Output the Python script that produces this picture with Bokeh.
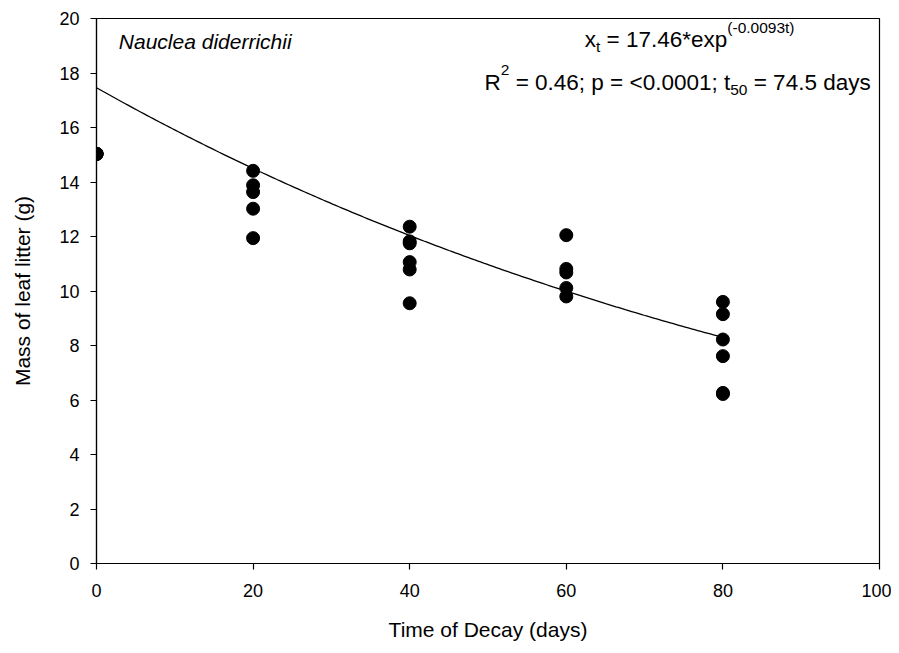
from bokeh.plotting import figure
from bokeh.models import Range1d, FixedTicker, Label
from bokeh.embed import file_html
from bokeh.resources import INLINE
import numpy as np

# ---- data ----
day_0 = [0, 0, 0, 0, 0]
mass_0 = [15.03, 15.03, 15.03, 15.03, 15.03]
day_20 = [20, 20, 20, 20, 20]
mass_20 = [14.41, 13.88, 13.63, 13.02, 11.94]
day_40 = [40, 40, 40, 40, 40, 40]
mass_40 = [12.36, 11.82, 11.75, 11.06, 10.79, 9.55]
day_60 = [60, 60, 60, 60, 60]
mass_60 = [12.05, 10.81, 10.68, 10.11, 9.80]
day_80 = [80, 80, 80, 80, 80, 80]
mass_80 = [9.60, 9.15, 8.22, 7.61, 6.26, 6.22]

fit_a = 17.46
fit_k = 0.0093
fit_t_max = 80

x_ticks = [0, 20, 40, 60, 80, 100]
y_ticks = [0, 2, 4, 6, 8, 10, 12, 14, 16, 18, 20]

days = day_0 + day_20 + day_40 + day_60 + day_80
mass = mass_0 + mass_20 + mass_40 + mass_60 + mass_80

FONT = "Liberation Sans"

W, H = 891, 645
p = figure(width=W, height=H, output_backend="svg", toolbar_location=None,
           x_range=Range1d(0, 100), y_range=Range1d(0, 20),
           min_border_left=96, min_border_right=12, min_border_top=18,
           min_border_bottom=82)
p.grid.visible = False
p.outline_line_color = "black"
p.outline_line_width = 1.2
p.background_fill_color = "white"
p.border_fill_color = "white"

for ax in (p.xaxis[0], p.yaxis[0]):
    ax.axis_line_color = "black"
    ax.axis_line_width = 1.2
    ax.major_tick_line_color = "black"
    ax.major_tick_line_width = 1.2
    ax.major_tick_out = 6
    ax.major_tick_in = 0
    ax.minor_tick_line_color = None
    ax.major_label_text_font = FONT
    ax.major_label_text_font_size = "18px"
    ax.major_label_text_color = "black"
    ax.axis_label_text_font = FONT
    ax.axis_label_text_font_size = "21px"
    ax.axis_label_text_font_style = "normal"
    ax.axis_label_text_color = "black"

p.xaxis.ticker = FixedTicker(ticks=x_ticks)
p.yaxis.ticker = FixedTicker(ticks=y_ticks)
p.xaxis.axis_label = "Time of Decay (days)"
p.yaxis.axis_label = "Mass of leaf litter (g)"
p.xaxis.major_label_standoff = 14
p.yaxis.major_label_standoff = 11
p.xaxis.axis_label_standoff = 18
p.yaxis.axis_label_standoff = 22

# fitted curve
t = np.linspace(0, fit_t_max, 200)
p.line(t, fit_a * np.exp(-fit_k * t), line_color="black", line_width=1.3)

# points
p.scatter(days, mass, size=13, fill_color="black", line_color="black")

# ---- text annotations ----
# approximate Arial advance widths (em)
AW = {' ': .278, '=': .584, '.': .278, ';': .278, '<': .584, '*': .389,
      '(': .333, ')': .333, '-': .333, 'R': .722, 'x': .5, 't': .278,
      'e': .556, 'p': .556, 'd': .556, 'a': .556, 'y': .5, 's': .5}
def tw(s, fs):
    return sum(AW.get(c, .556) for c in s) * fs

PX_PER_X = 783 / 100.0   # frame width / x span
PX_PER_Y = 545 / 20.0    # frame height / y span
def dx(px):
    return px / PX_PER_X
def dy(px):
    return px / PX_PER_Y

MAIN, SMALL = 22.5, 15.5

def add_text(x, y, s, fs, style="normal"):
    p.add_layout(Label(x=x, y=y, text=s, text_font=FONT,
                       text_font_size=f"{fs}px", text_font_style=style,
                       text_color="black", text_align="left",
                       text_baseline="alphabetic"))

add_text(2.85, 19.15, "Nauclea diderrichii", 21, "italic")

def add_line(pieces, x_left, y_base):
    # SVG drops leading spaces, so advance past them before drawing
    x = x_left
    for s, fs, shift in pieces:
        lead = len(s) - len(s.lstrip(" "))
        x += dx(tw(" " * lead, fs))
        body = s.strip(" ")
        add_text(x, y_base + dy(shift), body, fs)
        x += dx(tw(s[lead:], fs))

line1 = [("x", MAIN, 0), ("t", SMALL, -7), (" = 17.46*exp", MAIN, 0),
         ("(-0.0093t)", SMALL, 12)]
line2 = [("R", MAIN, 0), ("2", SMALL, 13), (" = 0.46; p = <0.0001; t", MAIN, 0),
         ("50", SMALL, -7), (" = 74.5 days", MAIN, 0)]
add_line(line1, 62.36, 19.24)
add_line(line2, 49.56, 17.64)

open("out.html", "w").write(file_html(p, INLINE))
